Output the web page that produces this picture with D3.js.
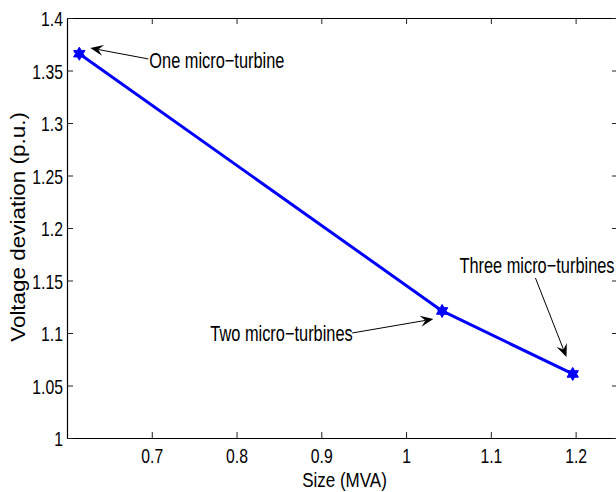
<!DOCTYPE html>
<html>
<head>
<meta charset="utf-8">
<script src="https://cdn.jsdelivr.net/npm/d3@7"></script>
<style>
  body { margin: 0; background: #fff; }
  svg { display: block; }
</style>
</head>
<body>
<script>
// data
var sizes = [0.6145, 1.0425, 1.1966];
var deviations = [1.366, 1.121, 1.061];
var xTicks = [0.7, 0.8, 0.9, 1, 1.1, 1.2];
var yTicks = [1, 1.05, 1.1, 1.15, 1.2, 1.25, 1.3, 1.35, 1.4];

// annotations in data units: label, text start, arrow tail, arrow tip
var notes = ['One micro\u2212turbine', 'Two micro\u2212turbines', 'Three micro\u2212turbines'];
var noteText = [[0.6971, 1.3524], [0.7691, 1.0924], [1.0629, 1.1574]];
var noteTail = [[0.6960, 1.3610], [0.9364, 1.1000], [1.1526, 1.1524]];
var noteTip = [[0.6275, 1.3714], [1.0322, 1.1133], [1.1892, 1.0771]];

var W = 616, H = 492;
var font = '"Liberation Sans", Arial, Helvetica, sans-serif';
var squeeze = 0.75;

var svg = d3.select('body').append('svg')
  .attr('width', W)
  .attr('height', H);

var x = d3.scaleLinear().domain([0.6, 1.25]).range([67, 618]);
var y = d3.scaleLinear().domain([1, 1.4]).range([438, 18]);

function styleAxis(g) {
  g.attr('font-family', font).attr('font-size', 21);
  g.select('.domain').attr('stroke', '#000').attr('stroke-width', 1.2);
  g.selectAll('.tick line').attr('stroke', '#222').attr('stroke-width', 1);
}

var fmt = d3.format('~g');

var gb = svg.append('g')
  .attr('transform', 'translate(0,438)')
  .call(d3.axisBottom(x).tickValues(xTicks).tickSizeInner(-6).tickSizeOuter(0).tickFormat(fmt));
styleAxis(gb);
gb.selectAll('.tick text')
  .attr('y', 25).attr('dy', 0)
  .attr('fill', '#000')
  .attr('transform', 'scale(' + squeeze + ',1)');

var gt = svg.append('g')
  .attr('transform', 'translate(0,18)')
  .call(d3.axisTop(x).tickValues(xTicks).tickSizeInner(-6).tickSizeOuter(0).tickFormat(''));
styleAxis(gt);

var gl = svg.append('g')
  .attr('transform', 'translate(67,0)')
  .call(d3.axisLeft(y).tickValues(yTicks).tickSizeInner(-6).tickSizeOuter(0).tickFormat(fmt));
styleAxis(gl);
gl.selectAll('.tick text')
  .attr('x', -4 / squeeze).attr('dy', '0.36em')
  .attr('fill', '#000')
  .attr('transform', 'scale(' + squeeze + ',1)');

var gr = svg.append('g')
  .attr('transform', 'translate(618,0)')
  .call(d3.axisRight(y).tickValues(yTicks).tickSizeInner(-6).tickSizeOuter(0).tickFormat(''));
styleAxis(gr);

// axis titles
svg.append('text')
  .text('Size (MVA)')
  .attr('font-family', font)
  .attr('font-size', 21)
  .attr('text-anchor', 'middle')
  .attr('transform', 'translate(344.5,487) scale(0.81,1)');

svg.append('text')
  .text('Voltage deviation (p.u.)')
  .attr('font-family', font)
  .attr('font-size', 21)
  .attr('text-anchor', 'middle')
  .attr('transform', 'translate(25,227) rotate(-90) scale(1.07,1)');

// the series
var pts = sizes.map(function (s, i) { return [s, deviations[i]]; });

svg.append('path')
  .datum(pts)
  .attr('fill', 'none')
  .attr('stroke', '#0000ff')
  .attr('stroke-width', 3)
  .attr('stroke-linejoin', 'round')
  .attr('d', d3.line().x(function (d) { return x(d[0]); }).y(function (d) { return y(d[1]); }));

// six-pointed star like matlab's hexagram
var hexagram = {
  draw: function (ctx, size) {
    var r = Math.sqrt(size) / 2, ri = r * 0.58;
    for (var k = 0; k < 12; k++) {
      var a = -Math.PI / 2 + k * Math.PI / 6;
      var rr = k % 2 ? ri : r;
      if (k === 0) ctx.moveTo(rr * Math.cos(a), rr * Math.sin(a));
      else ctx.lineTo(rr * Math.cos(a), rr * Math.sin(a));
    }
    ctx.closePath();
  }
};

svg.selectAll('.mark')
  .data(pts)
  .enter().append('path')
  .attr('class', 'mark')
  .attr('transform', function (d) { return 'translate(' + x(d[0]) + ',' + y(d[1]) + ')'; })
  .attr('d', d3.symbol().type(hexagram).size(170))
  .attr('fill', '#0000ff')
  .attr('stroke', '#0000ff')
  .attr('stroke-width', 1);

// annotations with arrows
notes.forEach(function (label, i) {
  var x0 = x(noteTail[i][0]), y0 = y(noteTail[i][1]);
  var x1 = x(noteTip[i][0]), y1 = y(noteTip[i][1]);
  var dx = x1 - x0, dy = y1 - y0, len = Math.sqrt(dx * dx + dy * dy);
  var ux = dx / len, uy = dy / len, nx = -uy, ny = ux;
  var hl = 13, hw = 5.5, back = 8;

  svg.append('line')
    .attr('x1', x0).attr('y1', y0)
    .attr('x2', x1 - ux * back).attr('y2', y1 - uy * back)
    .attr('stroke', '#000')
    .attr('stroke-width', 1);

  var bx = x1 - ux * hl, by = y1 - uy * hl;
  var ix = x1 - ux * back, iy = y1 - uy * back;
  svg.append('path')
    .attr('d', 'M' + x1 + ',' + y1 +
      'L' + (bx + nx * hw) + ',' + (by + ny * hw) +
      'L' + ix + ',' + iy +
      'L' + (bx - nx * hw) + ',' + (by - ny * hw) + 'Z')
    .attr('fill', '#000');

  svg.append('text')
    .text(label)
    .attr('font-family', font)
    .attr('font-size', 22)
    .attr('transform', 'translate(' + x(noteText[i][0]) + ',' + y(noteText[i][1]) + ') scale(0.745,1)');
});
</script>
</body>
</html>
